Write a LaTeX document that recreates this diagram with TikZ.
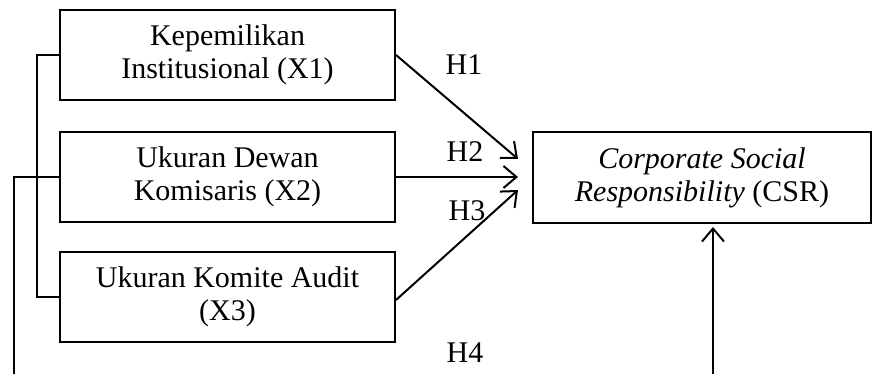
\documentclass[tikz,border=0pt]{standalone}
\usepackage{fontspec}
\setmainfont{Liberation Serif}
\usetikzlibrary{arrows.meta,calc}
\begin{document}
\begin{tikzpicture}[x=1pt,y=-1pt,
  box/.style={draw,line width=2pt,minimum width=335pt,minimum height=90pt,align=center,inner sep=0pt,
    font=\fontsize{30}{33}\selectfont},
  lbl/.style={font=\fontsize{30}{33}\selectfont,inner sep=0pt},
  arr/.style={line width=2pt,-{Straight Barb[length=13pt,width=22pt,line width=2pt]}},
  ln/.style={line width=1.6pt}]
\useasboundingbox (0,0) rectangle (872,374);
\node[box] (x1) at (227.5,55) {Kepemilikan\\Institusional (X1)};
\node[box] (x2) at (227.5,177) {Ukuran Dewan\\Komisaris (X2)};
\node[box] (x3) at (227.5,297) {Ukuran Komite Audit\\(X3)};
\node[box,minimum width=338pt,minimum height=91pt] (csr) at (702,177.5) {\textit{Corporate Social}\\\textit{Responsibility} (CSR)};
% bracket
\coordinate (bx) at (37,0);
\draw[ln] (x1.west) -- (x1.west -| bx) -- (x3.west -| bx) -- (x3.west);
\draw[ln] (x2.west -| bx) -- (x2.west);
\coordinate (ob) at (14,374);
\draw[ln] (x2.west -| bx) -- (x2.west -| ob) -- (ob);
% arrows
\coordinate (tx) at (518,0);
\coordinate (t1) at (518,159);
\coordinate (t3) at (518,190);
\draw[arr] (x1.east) -- (t1);
\draw[arr] (x2.east) -- (x2.east -| tx);
\draw[arr] ($(x3.east)+(0,3)$) -- (t3);
\coordinate (h4b) at (713,374);
\draw[arr] (h4b) -- ($(csr.south -| h4b)+(0,3)$);
% labels
\node[lbl] (h1) at (464,65) {H1};
\node[lbl] (h2) at (465,152) {H2};
\node[lbl] (h3) at (467,211) {H3};
\node[lbl] (h4) at (465,353) {H4};
\end{tikzpicture}
\end{document}
